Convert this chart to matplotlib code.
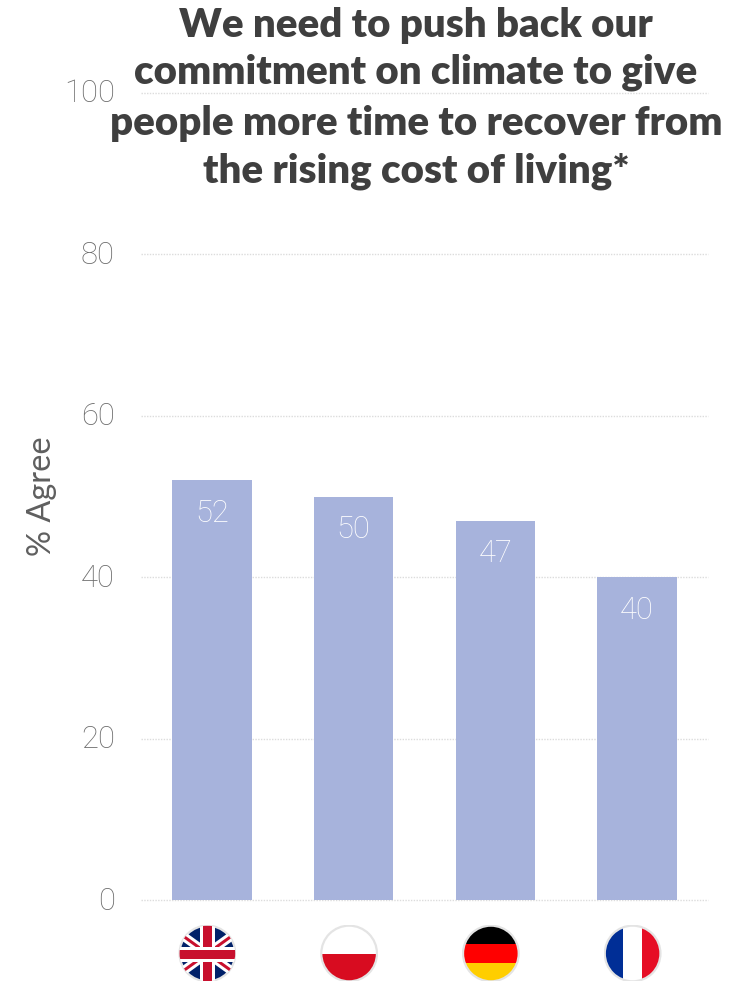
import matplotlib
matplotlib.use("Agg")
import matplotlib.pyplot as plt
import matplotlib.transforms as mtrans
import numpy as np
from matplotlib.patches import Circle, Rectangle

countries = ["UK", "Poland", "Germany", "France"]
values = [52, 50, 47, 40]
yticks = [0, 20, 40, 60, 80, 100]
title_lines = ["We need to push back our", "commitment on climate to give",
               "people more time to recover from", "the rising cost of living*"]
title_y_px = [25, 72, 123, 171]

W, H = 748, 981
DPI = 100
px = 72 / DPI
plt.rcParams['font.family'] = ['Lato', 'DejaVu Sans']

fig = plt.figure(figsize=(W / DPI, H / DPI), dpi=DPI, facecolor="white")
L, R, T, B = 141, 708, 93, 900
ax = fig.add_axes([L / W, 1 - B / H, (R - L) / W, (B - T) / H])
ax.set_xlim(-0.5, 3.5)
ax.set_ylim(0, 100)
for s in ax.spines.values():
    s.set_visible(False)
ax.set_yticks(yticks)
ax.set_xticks([])
ax.tick_params(axis="y", length=0, pad=26 * px, labelsize=31 * px, labelcolor="#6b6b6b")
shift = mtrans.ScaledTranslation(0, 2 / DPI, fig.dpi_scale_trans)
for t in ax.get_yticklabels():
    t.set_fontfamily("Roboto")
    t.set_fontweight("light")
    t.set_transform(t.get_transform() + shift)
ax.grid(axis="y", color="#dcdcdc", linestyle=(0, (1, 1)), linewidth=1.0, clip_on=False)
ax.set_axisbelow(True)

bars = ax.bar(range(len(values)), values, width=0.56, color="#a7b3dc", linewidth=0)
for i, v in enumerate(values):
    ax.annotate(str(v), (i, v), xytext=(0, -33 * px), textcoords="offset points",
                ha="center", va="center", color="white", fontsize=31 * px,
                fontfamily="Roboto", fontweight="light")

ax.text(-0.175, 0.5, "% Agree", transform=ax.transAxes, rotation=90, ha="center", va="center",
        color="#5f5f5f", fontsize=32.5 * px)

for line, y in zip(title_lines, title_y_px):
    fig.text(416 / W, 1 - y / H, line, ha="center", va="center", color="#3f3f3f",
             fontsize=40.2 * px, fontweight="heavy")


def flag_axes(i):
    cx = ax.transData.transform((i, 0))[0]
    d = 58
    a = fig.add_axes([(cx - 4.5 - d / 2) / W, 1 - (953.5 + d / 2) / H, d / W, d / H])
    a.set_xlim(-1, 1); a.set_ylim(-1, 1); a.axis("off")
    a.set_autoscale_on(False)
    return a, Circle((0, 0), 0.96, transform=a.transData)


def stripes_h(a, clip, cols):
    n = len(cols)
    for k, c in enumerate(cols):
        r = Rectangle((-1, 1 - 2 * (k + 1) / n), 2, 2 / n, color=c, lw=0)
        a.add_patch(r); r.set_clip_path(clip)


def stripes_v(a, clip, cols):
    n = len(cols)
    for k, c in enumerate(cols):
        r = Rectangle((-1 + 2 * k / n, -1), 2 / n, 2, color=c, lw=0)
        a.add_patch(r); r.set_clip_path(clip)


def uk(a, clip):
    r = Rectangle((-1, -1), 2, 2, color="#012169", lw=0)
    a.add_patch(r); r.set_clip_path(clip)
    for sgn in (1, -1):
        l, = a.plot([-1, 1], [-sgn * 0.72, sgn * 0.72], color="white", lw=9 * px)
        l.set_clip_path(clip)
        l, = a.plot([-1, 1], [-sgn * 0.72, sgn * 0.72], color="#c8102e", lw=3 * px)
        l.set_clip_path(clip)
    for coords in (([0, 0], [-1, 1]), ([-1, 1], [0, 0])):
        l, = a.plot(*coords, color="white", lw=15 * px, solid_capstyle="butt")
        l.set_clip_path(clip)
        l, = a.plot(*coords, color="#c8102e", lw=9 * px, solid_capstyle="butt")
        l.set_clip_path(clip)


for i, name in enumerate(countries):
    a, clip = flag_axes(i)
    if name == "UK":
        uk(a, clip)
    elif name == "Poland":
        stripes_h(a, clip, ["white", "#d80c20"])
    elif name == "Germany":
        stripes_h(a, clip, ["black", "#ff0000", "#ffce00"])
    else:
        stripes_v(a, clip, ["#002e96", "white", "#e60d25"])
    a.add_patch(Circle((0, 0), 0.96, fill=False, ec="#e4e4e4", lw=1.6))

fig.savefig("out.png", dpi=DPI, facecolor="white")
